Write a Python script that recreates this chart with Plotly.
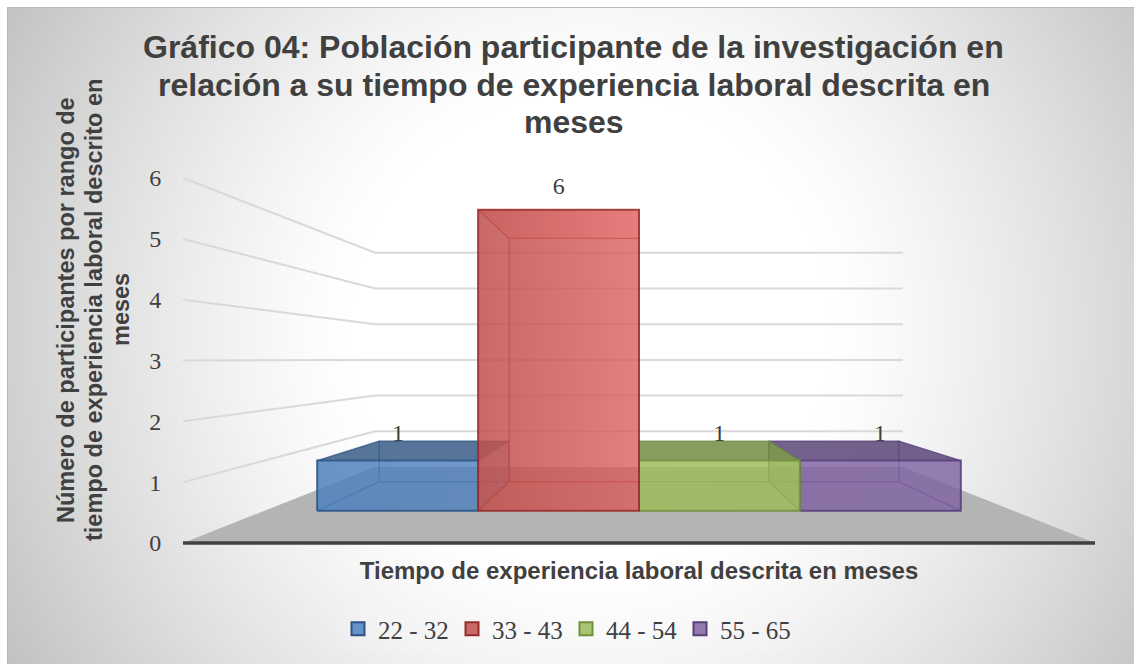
import base64, struct, zlib
import numpy as np
import plotly.graph_objects as go

# ---- data ----
categories = ["22 - 32", "33 - 43", "44 - 54", "55 - 65"]
values = [1, 6, 1, 1]
y_ticks = [0, 1, 2, 3, 4, 5, 6]
title_lines = ["Gráfico 04: Población participante de la investigación en",
               "relación a su tiempo de experiencia laboral descrita en",
               "meses"]
x_title = "Tiempo de experiencia laboral descrita en meses"
y_title_lines = ["Número de participantes por rango de",
                 "tiempo de experiencia laboral descrito en",
                 "meses"]

# ---- style ----
FILL = ["79,129,189", "192,80,77", "155,187,89", "128,100,162"]
DARK = ["44,84,135", "150,45,45", "112,145,60", "88,62,125"]
FRONT_L = ["rgba(79,129,189,0.74)", "rgba(192,80,77,0.78)",
           "rgba(155,187,89,0.72)", "rgba(128,100,162,0.72)"]
FRONT_R = ["rgba(79,129,189,0.68)", "rgba(225,95,95,0.62)",
           "rgba(155,187,89,0.70)", "rgba(128,100,162,0.70)"]
TOP_L = ["rgba(50,84,125,0.72)", "rgba(205,90,90,0.55)",
         "rgba(105,130,60,0.72)", "rgba(82,62,112,0.72)"]
TOP_R = ["rgba(50,84,125,0.72)", "rgba(228,105,105,0.55)",
         "rgba(105,130,60,0.72)", "rgba(82,62,112,0.72)"]
LEFTA = [0.42, 0.35, 0.22, 0.04]
RIGHTA = [0.12, 0.30, 0.55, 0.42]
ORDER = [0, 3, 2, 1]      # painter's order: outer bars first
TXT = "#404040"

# ---- perspective used to draw the 3-D look on ordinary 2-D axes ----
FRONT, BAR_FRONT, BAR_BACK, BACK = 1.0, 0.825, 0.666, 0.587
H = 3.025             # height (axis units) of the vanishing point
HALF = 2.338          # half width of the floor at the front, in category units
HALF_B = HALF * 0.986 # same measure used at the back wall
W, HT = 1134, 664
ML, MR, MB = 183, 39, 121
PW, PH = W - ML - MR, HT - MB
YTOP = PH / 60.83


def X(u, s):
    return s * u


def Y(v, s):
    return H * (1 - s) + s * v


def quad(pts):
    xs = [X(p[0], p[1]) for p in pts] + [X(pts[0][0], pts[0][1])]
    ys = [Y(p[2], p[1]) for p in pts] + [Y(pts[0][2], pts[0][1])]
    return xs, ys


def background():
    w, h = 1127, 657
    yy, xx = np.mgrid[7:7 + h, 7:7 + w]
    r = np.hypot(xx - 590, yy - 330)
    g = 255 - 59 * np.clip((r - 240) / 420, 0, 1.1) ** 1.25
    a = g.astype(np.uint8)
    raw = b"".join(b"\x00" + a[i].tobytes() for i in range(h))

    def chunk(t, d):
        return struct.pack(">I", len(d)) + t + d + struct.pack(">I", zlib.crc32(t + d))

    png = (b"\x89PNG\r\n\x1a\n" + chunk(b"IHDR", struct.pack(">IIBBBBB", w, h, 8, 0, 0, 0, 0))
           + chunk(b"IDAT", zlib.compress(raw)) + chunk(b"IEND", b""))
    return "data:image/png;base64," + base64.b64encode(png).decode()


fig = go.Figure()

# floor
fx, fy = quad([(-HALF, FRONT, 0), (HALF, FRONT, 0), (HALF_B, BACK, 0), (-HALF_B, BACK, 0)])
fig.add_trace(go.Scatter(x=fx, y=fy, mode="lines", fill="toself", fillcolor="#b4b4b4",
                         line=dict(width=0), showlegend=False, hoverinfo="skip"))

# gridlines: side wall, then back wall
for t in y_ticks[1:]:
    fig.add_trace(go.Scatter(x=[X(-HALF, FRONT), X(-HALF_B, BACK), X(HALF_B, BACK)],
                             y=[Y(t, FRONT), Y(t, BACK), Y(t, BACK)], mode="lines",
                             line=dict(color="#d9d9d9", width=2), showlegend=False,
                             hoverinfo="skip"))

# bars
for i in ORDER:
    name, v = categories[i], values[i]
    l, r = i - 2, i - 1
    f, b = BAR_FRONT, BAR_BACK
    inner = dict(color=f"rgba({DARK[i]},0.45)", width=1.3)
    outer = dict(color=f"rgba({DARK[i]},0.8)", width=2)
    faces = [
        ([(l, b, 0), (r, b, 0), (r, b, v), (l, b, v)], f"rgba({FILL[i]},0.42)"),     # back
        ([(l, f, 0), (r, f, 0), (r, b, 0), (l, b, 0)], f"rgba({FILL[i]},0.42)"),     # bottom
        ([(l, f, 0), (l, b, 0), (l, b, v), (l, f, v)], f"rgba({FILL[i]},{LEFTA[i]})"),
        ([(r, f, 0), (r, b, 0), (r, b, v), (r, f, v)], f"rgba({FILL[i]},{RIGHTA[i]})"),
    ]
    for pts, col in faces:
        x, y = quad(pts)
        fig.add_trace(go.Scatter(x=x, y=y, mode="lines", fill="toself", fillcolor=col,
                                 line=inner, showlegend=False, hoverinfo="skip"))
    x, y = quad([(l, f, v), (r, f, v), (r, b, v), (l, b, v)])
    fig.add_trace(go.Scatter(
        x=x, y=y, mode="lines", fill="toself", line=inner, showlegend=False, hoverinfo="skip",
        fillgradient=dict(type="horizontal", colorscale=[[0, TOP_L[i]], [1, TOP_R[i]]])))
    x, y = quad([(l, f, 0), (r, f, 0), (r, f, v), (l, f, v)])
    fig.add_trace(go.Scatter(
        x=x, y=y, mode="lines", fill="toself", line=outer, showlegend=False, name=name,
        fillgradient=dict(type="horizontal", colorscale=[[0, FRONT_L[i]], [1, FRONT_R[i]]]),
        hovertemplate=f"{name}: {v}<extra></extra>"))

# data labels
fig.add_trace(go.Scatter(
    x=[X(i - 1.5, 0.824) for i in range(len(values))],
    y=[Y(v + 0.49, 0.809) for v in values],
    mode="text", text=[str(v) for v in values], textposition="middle center",
    textfont=dict(family="Liberation Serif", size=24, color=TXT),
    showlegend=False, hoverinfo="skip"))

# legend entries
for i, name in enumerate(categories):
    fig.add_trace(go.Scatter(x=[None], y=[None], mode="markers", name=name,
                             marker=dict(symbol="square", size=13, color=f"rgba({FILL[i]},0.85)",
                                         line=dict(color=f"rgb({DARK[i]})", width=2))))


def px(x):
    return (x - ML) / PW


def py(y):
    return 1 - y / PH


annotations = []
for line, yc in zip(title_lines, [47, 85, 122]):
    annotations.append(dict(text=line, xref="paper", yref="paper", x=px(573.5), y=py(yc),
                            xanchor="center", yanchor="middle", showarrow=False,
                            font=dict(family="Liberation Sans", size=32, color=TXT, weight="bold")))
for line, xc in zip(y_title_lines, [66, 94, 121]):
    annotations.append(dict(text=line, xref="paper", yref="paper", x=px(xc), y=py(310),
                            xanchor="center", yanchor="middle", textangle=-90, showarrow=False,
                            font=dict(family="Liberation Sans", size=23.5, color=TXT, weight="bold")))

fig.update_layout(
    width=W, height=HT, autosize=False,
    margin=dict(l=ML, r=MR, t=0, b=MB, pad=0),
    paper_bgcolor="white", plot_bgcolor="rgba(0,0,0,0)",
    font=dict(family="Liberation Sans", color=TXT),
    xaxis=dict(range=[-HALF, HALF], showgrid=False, zeroline=False, showticklabels=False,
               ticks="", showline=False, fixedrange=True,
               title=dict(text=x_title, standoff=19,
                          font=dict(family="Liberation Sans", size=24, color=TXT, weight="bold"))),
    yaxis=dict(range=[0, YTOP], showgrid=False, zeroline=False, tickmode="array", tickvals=y_ticks,
               ticktext=[str(t) for t in y_ticks], ticks="outside", ticklen=16,
               tickcolor="rgba(0,0,0,0)", showline=False, fixedrange=True,
               tickfont=dict(family="Liberation Serif", size=24, color=TXT)),
    legend=dict(orientation="h", x=px(338), xanchor="left", y=py(629), yanchor="middle",
                bgcolor="rgba(255,255,255,0.08)", entrywidth=69, entrywidthmode="pixels",
                font=dict(family="Liberation Serif", size=25, color=TXT), itemclick=False,
                itemdoubleclick=False),
    images=[dict(source=background(), xref="paper", yref="paper", x=px(7), y=py(7),
                 sizex=1127 / PW, sizey=657 / PH, xanchor="left", yanchor="top",
                 sizing="stretch", layer="below")],
    shapes=[dict(type="line", xref="paper", yref="paper", x0=px(7), x1=px(W), y0=py(7.5), y1=py(7.5),
                 line=dict(color="#bdbdbd", width=1), layer="below"),
            dict(type="line", xref="paper", yref="paper", x0=px(7.5), x1=px(7.5), y0=py(7), y1=py(HT),
                 line=dict(color="#b5b5b5", width=1), layer="below"),
            dict(type="line", xref="paper", yref="paper", x0=0, x1=1, y0=0, y1=0,
                 line=dict(color="#404040", width=3.5), layer="above")],
    annotations=annotations,
)

fig.write_html("out.html", config=dict(displayModeBar=False),
               post_script="document.body.style.margin='0';document.body.style.overflow='hidden';")
